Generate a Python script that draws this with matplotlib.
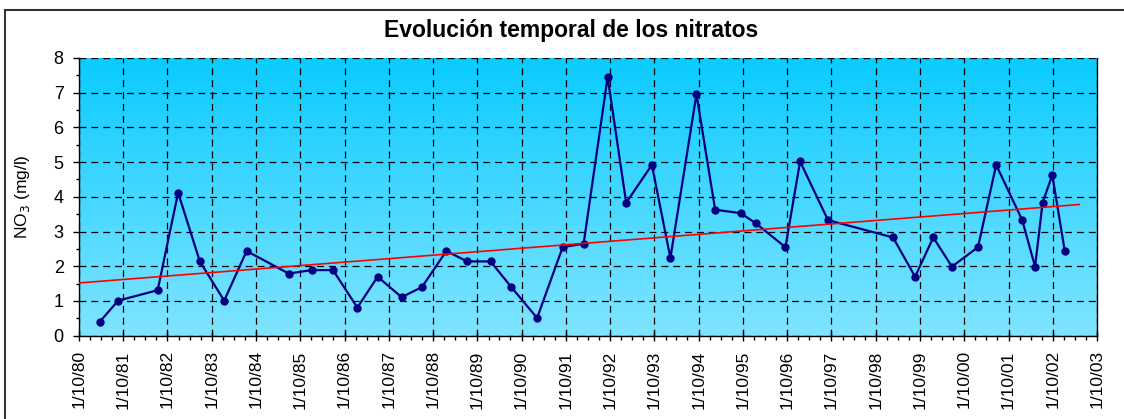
import datetime as dt

import matplotlib
matplotlib.use('Agg')
import matplotlib.pyplot as plt
import matplotlib.dates as mdates
import numpy as np
from matplotlib.colors import LinearSegmentedColormap
from matplotlib.patches import Rectangle
from matplotlib.ticker import FuncFormatter, MultipleLocator

# Fechas de muestreo y concentración de nitratos (mg/l)
fechas = [
    '1981-03-21', '1981-08-20', '1982-07-12', '1982-12-28', '1983-06-25',
    '1984-01-12', '1984-07-15', '1985-06-28', '1986-01-02', '1986-06-28',
    '1987-01-15', '1987-07-01', '1988-01-15', '1988-07-01', '1989-01-18',
    '1989-07-08', '1990-01-18', '1990-07-08', '1991-02-06', '1991-09-05',
    '1992-02-25', '1992-09-10', '1993-02-10', '1993-09-10', '1994-02-10',
    '1994-09-13', '1995-02-14', '1995-09-13', '1996-01-15', '1996-09-16',
    '1997-01-15', '1997-09-02', '1999-02-21', '1999-08-22', '2000-01-19',
    '2000-06-21', '2001-01-22', '2001-06-21', '2002-01-22', '2002-05-08',
    '2002-07-09', '2002-09-27', '2003-01-08',
]
nitratos = [
    0.40, 1.01, 1.31, 4.12, 2.14, 1.01, 2.44, 1.79, 1.89, 1.89,
    0.81, 1.70, 1.11, 1.40, 2.44, 2.14, 2.14, 1.40, 0.51, 2.55,
    2.65, 7.45, 3.83, 4.92, 2.24, 6.96, 3.63, 3.53, 3.24, 2.55,
    5.02, 3.33, 2.83, 1.70, 2.83, 1.99, 2.55, 4.92, 3.33, 1.99,
    3.83, 4.63, 2.44,
]
titulo = 'Evolución temporal de los nitratos'

plt.rcParams['font.family'] = ['Liberation Sans', 'DejaVu Sans']

x = mdates.date2num([dt.date.fromisoformat(f) for f in fechas])
y = np.array(nitratos)
x_ini = mdates.date2num(dt.date(1980, 10, 1))
x_fin = mdates.date2num(dt.date(2003, 10, 1))

fig = plt.figure(figsize=(11.24, 4.19), dpi=100)
ax = fig.add_axes([79 / 1124, 1 - 335.7 / 419, (1097 - 79) / 1124, (335.7 - 58) / 419])

# fondo degradado
cmap = LinearSegmentedColormap.from_list('fondo', ['#80E4FF', '#0ACBFF'])
ax.imshow(np.linspace(0, 1, 256).reshape(-1, 1)[::-1], cmap=cmap, aspect='auto',
          extent=[0, 1, 0, 1], transform=ax.transAxes, zorder=0)

ax.plot(x, y, color='#000080', linewidth=1.6, marker='o', markersize=5, zorder=3)

# línea de tendencia (ajuste lineal)
a, b = np.polyfit(x, y, 1)
xt = np.array([x_ini, x[-1] + 120])
ax.plot(xt, a * xt + b, color='#FF0000', linewidth=1.2, zorder=4)

ax.set_xlim(x_ini, x_fin)
ax.set_ylim(0, 8)

ax.xaxis.set_major_locator(mdates.YearLocator(1, month=10, day=1))
ax.xaxis.set_minor_locator(mdates.MonthLocator(bymonth=[1, 4, 7, 10]))
ax.xaxis.set_major_formatter(FuncFormatter(
    lambda v, p: '{0.day}/{0.month}/{0:%y}'.format(mdates.num2date(v))))
ax.yaxis.set_major_locator(MultipleLocator(1))
ax.yaxis.set_minor_locator(MultipleLocator(0.5))

ax.grid(True, which='major', color='black', linestyle=(0, (5.5, 4)), linewidth=0.9, zorder=1)
ax.set_axisbelow(False)

ax.tick_params(axis='x', which='major', direction='inout', length=7, width=1,
               labelsize=12.5, labelrotation=90, pad=7)
ax.tick_params(axis='x', which='minor', direction='out', length=3, width=1)
ax.tick_params(axis='y', which='major', direction='out', length=4, width=1,
               labelsize=13, pad=7)
ax.tick_params(axis='y', which='minor', direction='out', length=2.5, width=1)

for s in ('left', 'bottom', 'right'):
    ax.spines[s].set_color('black')
    ax.spines[s].set_linewidth(1)
ax.spines['top'].set_visible(False)

ax.set_ylabel('NO$_3$ (mg/l)', fontsize=12.5)
ax.yaxis.set_label_coords(-0.046, 0.5)

fig.text(571 / 1124, 1 - 37 / 419, titulo, ha='center', va='baseline',
         fontsize=16.5, fontweight='bold')

# marco exterior
fig.add_artist(Rectangle((4.5 / 1124, -0.2), 1.2, 1.2 - 10 / 419,
                         transform=fig.transFigure, fill=False,
                         edgecolor='#333333', linewidth=1.5))

fig.savefig('out.png', dpi=100)
